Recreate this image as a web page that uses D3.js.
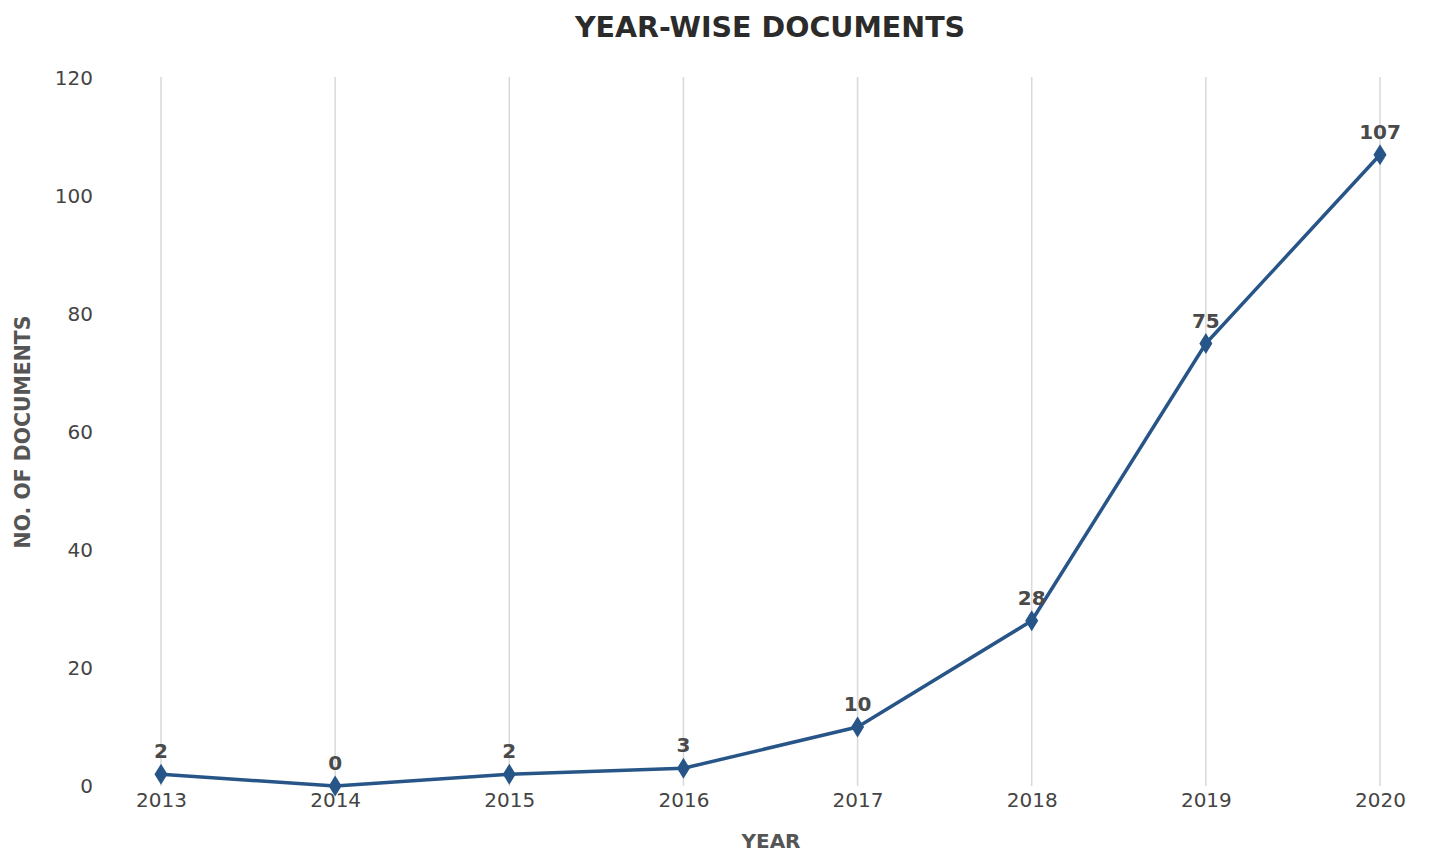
<!DOCTYPE html>
<html>
<head>
<meta charset="utf-8">
<script src="https://cdn.jsdelivr.net/npm/d3@7"></script>
<style>
  body { margin: 0; background: #fff; }
  text { font-family: "DejaVu Sans", sans-serif; }
</style>
</head>
<body>
<div id="chart"></div>
<script>
// Data
const years = ["2013", "2014", "2015", "2016", "2017", "2018", "2019", "2020"];
const docs = [2, 0, 2, 3, 10, 28, 75, 107];
const yTicks = [0, 20, 40, 60, 80, 100, 120];

const width = 1456;
const height = 867;
const margin = { top: 78, right: 76, bottom: 81, left: 161 };

const svg = d3.select("#chart")
  .append("svg")
  .attr("width", width)
  .attr("height", height);

// Scales
const x = d3.scalePoint()
  .domain(years)
  .range([margin.left, width - margin.right]);
const y = d3.scaleLinear()
  .domain([0, 120])
  .range([height - margin.bottom, margin.top]);

// Vertical grid lines
svg.append("g")
  .selectAll("line")
  .data(years)
  .enter()
  .append("line")
  .attr("x1", d => x(d))
  .attr("x2", d => x(d))
  .attr("y1", y(120) - 1)
  .attr("y2", y(0))
  .attr("stroke", "#d9d9d9")
  .attr("stroke-width", 1.5);

// X axis (labels only)
const xAxis = svg.append("g")
  .attr("transform", `translate(0,${y(0)})`)
  .call(d3.axisBottom(x).tickSize(0).tickPadding(7));
xAxis.select(".domain").remove();
xAxis.selectAll("text")
  .attr("font-size", 20)
  .attr("fill", "#444")
  .style("font-family", "DejaVu Sans");

// Y axis (labels only)
const yAxis = svg.append("g")
  .attr("transform", `translate(${margin.left - 68},0)`)
  .call(d3.axisLeft(y).tickValues(yTicks).tickSize(0).tickPadding(0));
yAxis.select(".domain").remove();
yAxis.selectAll("text")
  .attr("font-size", 20)
  .attr("fill", "#444")
  .style("font-family", "DejaVu Sans");

// Title
svg.append("text")
  .attr("x", 770)
  .attr("y", 37)
  .attr("text-anchor", "middle")
  .attr("font-size", 28.5)
  .attr("font-weight", "bold")
  .attr("fill", "#2b2b2b")
  .text("YEAR-WISE DOCUMENTS");

// Axis labels
svg.append("text")
  .attr("x", 771)
  .attr("y", 848)
  .attr("text-anchor", "middle")
  .attr("font-size", 20)
  .attr("font-weight", "bold")
  .attr("fill", "#555")
  .text("YEAR");
svg.append("text")
  .attr("transform", "translate(30,432) rotate(-90)")
  .attr("text-anchor", "middle")
  .attr("font-size", 20.4)
  .attr("font-weight", "bold")
  .attr("fill", "#555")
  .text("NO. OF DOCUMENTS");

// Line
const line = d3.line()
  .x((d, i) => x(years[i]))
  .y(d => y(d));
svg.append("path")
  .datum(docs)
  .attr("fill", "none")
  .attr("stroke", "#285587")
  .attr("stroke-width", 3.5)
  .attr("stroke-linejoin", "round")
  .attr("d", line);

// Thin diamond markers
const diamond = "M0,-10.5L6.5,0L0,10.5L-6.5,0Z";
svg.append("g")
  .selectAll("path")
  .data(docs)
  .enter()
  .append("path")
  .attr("transform", (d, i) => `translate(${x(years[i])},${y(d)})`)
  .attr("d", diamond)
  .attr("fill", "#285587");

// Value labels
svg.append("g")
  .selectAll("text")
  .data(docs)
  .enter()
  .append("text")
  .attr("x", (d, i) => x(years[i]))
  .attr("y", d => y(d) - 16)
  .attr("text-anchor", "middle")
  .attr("font-size", 20)
  .attr("font-weight", "bold")
  .attr("fill", "#4a4a4a")
  .text(d => d);
</script>
</body>
</html>
